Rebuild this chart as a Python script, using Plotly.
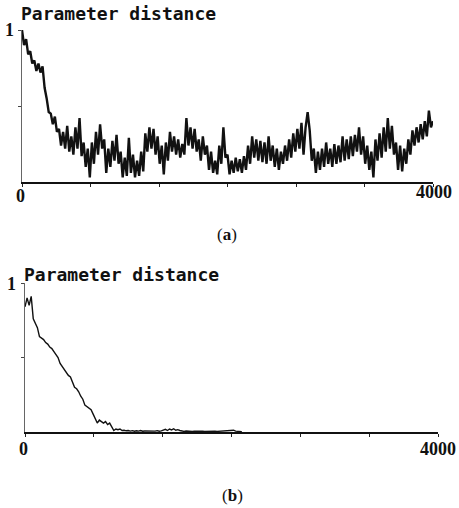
import plotly.graph_objects as go

# ---- data ----
x_max = 4000
x_tick_vals = [0, 666.67, 1333.33, 2000, 2666.67, 3333.33, 4000]
y_tick_vals = [0.5, 1.0]
title_text = "Parameter distance"
step = 20

dist_a = [
    1.00, 0.90, 0.94, 0.84, 0.86, 0.78, 0.80, 0.73, 0.78, 0.72,
    0.76, 0.62, 0.55, 0.46, 0.45, 0.38, 0.43, 0.33, 0.35, 0.24,
    0.33, 0.22, 0.37, 0.20, 0.30, 0.18, 0.36, 0.22, 0.42, 0.17,
    0.26, 0.10, 0.22, 0.03, 0.26, 0.12, 0.33, 0.18, 0.38, 0.22,
    0.28, 0.06, 0.22, 0.10, 0.27, 0.14, 0.31, 0.12, 0.20, 0.03,
    0.16, 0.04, 0.29, 0.06, 0.18, 0.03, 0.14, 0.04, 0.20, 0.07,
    0.32, 0.20, 0.36, 0.22, 0.35, 0.18, 0.30, 0.12, 0.24, 0.05,
    0.26, 0.14, 0.33, 0.20, 0.30, 0.18, 0.28, 0.16, 0.25, 0.18,
    0.42, 0.24, 0.36, 0.22, 0.35, 0.20, 0.28, 0.14, 0.30, 0.18,
    0.24, 0.08, 0.20, 0.06, 0.14, 0.05, 0.24, 0.12, 0.36, 0.16,
    0.18, 0.05, 0.14, 0.06, 0.16, 0.07, 0.15, 0.06, 0.17, 0.08,
    0.24, 0.12, 0.30, 0.16, 0.28, 0.14, 0.27, 0.13, 0.26, 0.12,
    0.30, 0.14, 0.24, 0.10, 0.22, 0.08, 0.20, 0.12, 0.24, 0.14,
    0.28, 0.16, 0.32, 0.20, 0.35, 0.22, 0.39, 0.18, 0.36, 0.46,
    0.34, 0.14, 0.22, 0.06, 0.20, 0.08, 0.22, 0.10, 0.26, 0.12,
    0.22, 0.10, 0.25, 0.12, 0.24, 0.13, 0.30, 0.14, 0.28, 0.15,
    0.30, 0.17, 0.31, 0.20, 0.36, 0.18, 0.30, 0.12, 0.24, 0.08,
    0.20, 0.03, 0.28, 0.14, 0.32, 0.16, 0.36, 0.20, 0.42, 0.22,
    0.37, 0.18, 0.26, 0.08, 0.24, 0.07, 0.22, 0.12, 0.28, 0.18,
    0.34, 0.24, 0.36, 0.26, 0.38, 0.28, 0.40, 0.30, 0.47, 0.36,
    0.40,
]

dist_b = [
    0.84, 0.90, 0.85, 0.91, 0.76, 0.73, 0.70, 0.64, 0.63, 0.62,
    0.60, 0.59, 0.57, 0.56, 0.54, 0.52, 0.50, 0.46, 0.44, 0.42,
    0.40, 0.38, 0.37, 0.34, 0.30, 0.29, 0.27, 0.24, 0.22, 0.18,
    0.17, 0.16, 0.15, 0.12, 0.09, 0.06, 0.08, 0.07, 0.06, 0.07,
    0.05, 0.06, 0.03, 0.01, 0.02, 0.015, 0.02, 0.01, 0.012, 0.008,
    0.010, 0.006, 0.009, 0.005, 0.008, 0.006, 0.010, 0.005, 0.007, 0.006,
    0.008, 0.005, 0.007, 0.006, 0.009, 0.005, 0.008,
    0.012, 0.018, 0.010, 0.020, 0.014, 0.022, 0.012, 0.016, 0.010,
    0.006, 0.004, 0.007, 0.005, 0.006, 0.004, 0.005,
    0.006, 0.004, 0.005, 0.006, 0.004, 0.005, 0.004,
    0.005, 0.004, 0.006, 0.004, 0.005, 0.003, 0.004, 0.005, 0.006,
    0.010, 0.008, 0.012, 0.006, 0.004, 0.003, 0.002,
]

xa = [i * step for i in range(len(dist_a))]
xb = [i * step for i in range(len(dist_b))]

W, H = 459, 508

def px(v):
    return v / W

def py(v):
    return 1 - v / H

fig = go.Figure()
fig.add_trace(go.Scatter(x=xa, y=dist_a, mode="lines",
                         line=dict(color="#111111", width=2.4),
                         xaxis="x", yaxis="y", showlegend=False))
fig.add_trace(go.Scatter(x=xb, y=dist_b, mode="lines",
                         line=dict(color="#111111", width=1.4),
                         xaxis="x2", yaxis="y2", showlegend=False))

xcommon = dict(range=[0, x_max], showgrid=False, zeroline=False,
               showline=True, linecolor="#111111", linewidth=1.6,
               ticks="outside", ticklen=3, tickwidth=1, tickcolor="#222222",
               tickvals=x_tick_vals, showticklabels=False, fixedrange=True)
ycommon = dict(range=[0, 1.0], showgrid=False, zeroline=False,
               showline=True, linecolor="#666666", linewidth=1,
               ticks="outside", ticklen=3, tickwidth=1, tickcolor="#444444",
               tickvals=y_tick_vals, showticklabels=False, fixedrange=True)

fig.update_layout(
    width=W, height=H,
    margin=dict(l=0, r=0, t=0, b=0),
    paper_bgcolor="white", plot_bgcolor="white",
    xaxis=dict(domain=[px(22), px(433)], anchor="y", **xcommon),
    yaxis=dict(domain=[py(182), py(30)], anchor="x", **ycommon),
    xaxis2=dict(domain=[px(25), px(438)], anchor="y2", **xcommon),
    yaxis2=dict(domain=[py(432), py(283)], anchor="x2", **ycommon),
)

mono = dict(family="DejaVu Sans Mono", size=18, color="#111111")
serif = dict(family="Liberation Serif", size=17, color="#111111")

ann = []
# titles
ann.append(dict(text="<b>" + title_text + "</b>", x=px(19), y=py(14), xref="paper", yref="paper",
                xanchor="left", yanchor="middle", showarrow=False, font=mono))
ann.append(dict(text="<b>" + title_text + "</b>", x=px(22), y=py(274), xref="paper", yref="paper",
                xanchor="left", yanchor="middle", showarrow=False, font=mono))
# axis end labels
for (t, xx, yy) in [("1", 9, 30), ("0", 20, 196), (str(x_max), 434, 192),
                    ("1", 11, 284), ("0", 23, 449), (str(x_max), 438, 449)]:
    ann.append(dict(text="<b>" + t + "</b>", x=px(xx), y=py(yy), xref="paper", yref="paper",
                    xanchor="center", yanchor="middle", showarrow=False,
                    font=dict(family="Liberation Serif", size=18, color="#111111")))
# panel labels
ann.append(dict(text="(<b>a</b>)", x=px(227), y=py(234), xref="paper", yref="paper",
                xanchor="center", yanchor="middle", showarrow=False, font=serif))
ann.append(dict(text="(<b>b</b>)", x=px(232), y=py(495), xref="paper", yref="paper",
                xanchor="center", yanchor="middle", showarrow=False, font=serif))
fig.update_layout(annotations=ann)

fig.write_html("out.html", config={"displayModeBar": False},
               post_script="document.body.style.margin='0px';")
